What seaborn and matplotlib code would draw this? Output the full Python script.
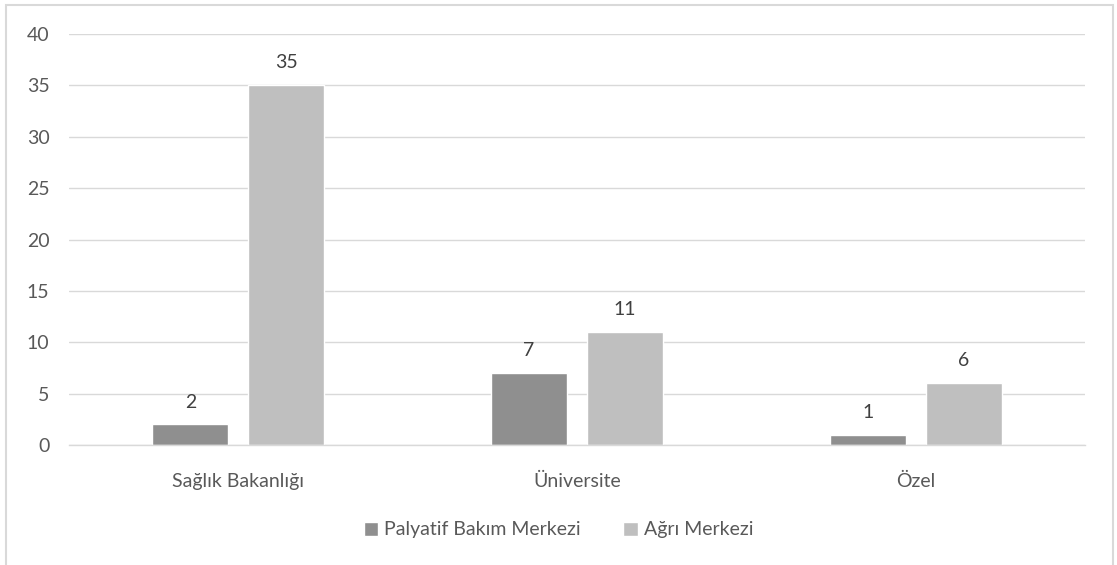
import matplotlib
matplotlib.use("Agg")
import matplotlib.pyplot as plt
import seaborn as sns
import pandas as pd
from matplotlib.patches import Rectangle

categories = ["Sağlık Bakanlığı", "Üniversite", "Özel"]
series_names = ["Palyatif Bakım Merkezi", "Ağrı Merkezi"]
palyatif = [2, 7, 1]
agri = [35, 11, 6]
y_ticks = [0, 5, 10, 15, 20, 25, 30, 35, 40]

df = pd.DataFrame({
    "Kurum": categories * 2,
    "Seri": [series_names[0]] * 3 + [series_names[1]] * 3,
    "Değer": palyatif + agri,
})

sns.set_theme(style="white")
plt.rcParams["font.family"] = ["Lato", "DejaVu Sans"]

fig = plt.figure(figsize=(11.17, 5.65), dpi=100)
ax = fig.add_axes([0.0618, 0.2124, 0.9095, 0.7274])

colors = ["#8f8f8f", "#bfbfbf"]
sns.barplot(data=df, x="Kurum", y="Değer", hue="Seri", order=categories,
            hue_order=series_names, palette=colors, width=0.567, gap=0.21,
            saturation=1, ax=ax, legend=True)

for c in ax.containers:
    ax.bar_label(c, labels=[f"{v:g}" for v in c.datavalues], padding=10,
                 fontsize=14, color="#404040")

ax.set_ylim(0, 40)
ax.set_yticks(y_ticks)
ax.set_xlim(-0.5, 2.5)
ax.yaxis.grid(True, color="#d9d9d9", linewidth=1)
ax.set_axisbelow(True)
for s in ["left", "right", "top"]:
    ax.spines[s].set_visible(False)
ax.spines["bottom"].set_color("#d9d9d9")
ax.spines["bottom"].set_linewidth(1)
ax.tick_params(axis="both", length=0, labelsize=14, labelcolor="#595959")
ax.tick_params(axis="x", pad=20)
ax.tick_params(axis="y", pad=14)
ax.set_xlabel("")
ax.set_ylabel("")

handles, labels = ax.get_legend_handles_labels()
ax.legend_.remove()
fig.legend(handles, labels, loc="center", bbox_to_anchor=(0.5, 1 - 530 / 565),
           ncol=2, frameon=False, fontsize=14, labelcolor="#595959",
           handlelength=0.75, handleheight=0.75, handletextpad=0.3,
           columnspacing=2.2)

fig.patches.append(Rectangle((6 / 1117, -0.05), (1113 - 6) / 1117, 1.05 - 5 / 565,
                             transform=fig.transFigure, fill=False,
                             edgecolor="#d9d9d9", linewidth=1.5, zorder=0))

fig.savefig("out.png", dpi=100, facecolor="white")
